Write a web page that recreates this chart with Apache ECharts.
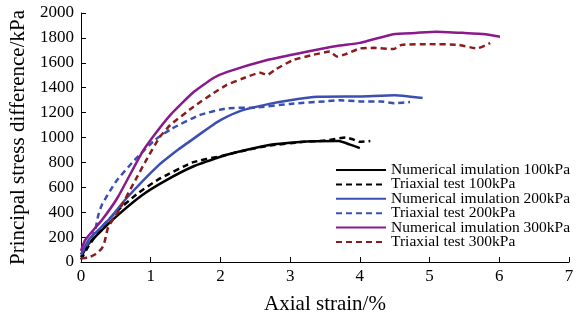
<!DOCTYPE html>
<html>
<head>
<meta charset="utf-8">
<script src="https://cdn.jsdelivr.net/npm/echarts@6/dist/echarts.min.js"></script>
<style>
  html, body { margin: 0; padding: 0; background: #fff; }
  #chart { width: 577px; height: 320px; }
</style>
</head>
<body>
<div id="chart"></div>
<script>
// [axial strain %, principal stress difference kPa]
const num100 = [[0, 40], [0.1, 140], [0.2, 200], [0.5, 362], [0.88, 538], [1.2, 650], [1.6, 765], [2.0, 845], [2.2, 878], [2.7, 940], [3.0, 958], [3.3, 970], [3.7, 972], [3.85, 945], [4.0, 915]];
const tri100 = [[0, 20], [0.1, 120], [0.3, 280], [0.5, 400], [0.8, 545], [1.1, 660], [1.6, 800], [2.0, 850], [2.3, 890], [2.7, 935], [3.2, 965], [3.5, 975], [3.8, 1000], [3.9, 985], [4.0, 965], [4.15, 972]];
const num200 = [[0, 60], [0.1, 170], [0.2, 230], [0.4, 340], [0.63, 498], [1.1, 770], [1.4, 905], [1.6, 985], [1.85, 1085], [2.0, 1140], [2.28, 1212], [2.7, 1270], [3.0, 1300], [3.4, 1327], [4.0, 1330], [4.5, 1340], [4.7, 1330], [4.9, 1318]];
const tri200 = [[0, 60], [0.1, 150], [0.2, 250], [0.25, 380], [0.3, 460], [0.5, 645], [0.77, 820], [1.06, 980], [1.3, 1070], [1.7, 1180], [2.1, 1235], [2.5, 1240], [3.0, 1270], [3.5, 1290], [3.7, 1300], [4.0, 1290], [4.3, 1290], [4.5, 1275], [4.72, 1285]];
const num300 = [[0, 90], [0.06, 177], [0.3, 337], [0.53, 522], [0.87, 875], [1.03, 1004], [1.28, 1180], [1.6, 1357], [1.9, 1478], [2.1, 1527], [2.67, 1622], [3.2, 1685], [3.67, 1735], [4.0, 1760], [4.48, 1830], [4.8, 1840], [5.1, 1850], [5.5, 1840], [5.8, 1830], [6.01, 1810]];
const tri300 = [[0, 30], [0.1, 35], [0.2, 60], [0.3, 110], [0.34, 165], [0.39, 280], [0.53, 400], [0.78, 658], [0.92, 803], [1.13, 1004], [1.28, 1100], [1.61, 1245], [1.9, 1357], [2.09, 1422], [2.3, 1470], [2.57, 1520], [2.67, 1502], [2.8, 1550], [3.04, 1622], [3.3, 1660], [3.57, 1690], [3.67, 1650], [3.8, 1670], [4.0, 1715], [4.2, 1720], [4.48, 1710], [4.6, 1744], [5.0, 1750], [5.4, 1745], [5.68, 1716], [5.87, 1758]];

const seriesNames = [
    "Numerical imulation 100kPa",
    "Triaxial test 100kPa",
    "Numerical imulation 200kPa",
    "Triaxial test 200kPa",
    "Numerical imulation 300kPa",
    "Triaxial test 300kPa"
];
const seriesData = [num100, tri100, num200, tri200, num300, tri300];
const seriesColors = ["#000000", "#000000", "#3b4fb3", "#3b4fb3", "#8a1a8c", "#8c1c1c"];

const font = "Liberation Serif, Times New Roman, serif";

const chart = echarts.init(document.getElementById("chart"));

const option = {
    animation: false,
    grid: { left: 81, right: 8, top: 13, bottom: 58 },
    legend: {
        orient: "vertical",
        left: 335,
        top: 162,
        padding: 0,
        itemWidth: 50,
        itemHeight: 10,
        itemGap: -1.6,
        itemStyle: { opacity: 0 },
        textStyle: { fontFamily: font, fontSize: 15.5, color: "#000" },
        data: seriesNames
    },
    xAxis: {
        type: "value",
        min: 0,
        max: 7,
        interval: 1,
        name: "Axial strain/%",
        nameLocation: "middle",
        nameGap: 32,
        nameTextStyle: { fontFamily: font, fontSize: 21, color: "#000" },
        axisLine: { lineStyle: { color: "#000", width: 1 } },
        axisTick: { inside: true, length: 5, lineStyle: { color: "#000" } },
        axisLabel: { fontFamily: font, fontSize: 17, color: "#000", margin: 6 },
        splitLine: { show: false }
    },
    yAxis: {
        type: "value",
        min: 0,
        max: 2000,
        interval: 200,
        name: "Principal stress difference/kPa",
        nameLocation: "middle",
        nameGap: 51,
        nameTextStyle: { fontFamily: font, fontSize: 21, color: "#000" },
        axisLine: { show: true, lineStyle: { color: "#000", width: 1 } },
        axisTick: { show: true, inside: true, length: 5, lineStyle: { color: "#000" } },
        axisLabel: { fontFamily: font, fontSize: 17, color: "#000", margin: 7, formatter: v => String(v) },
        splitLine: { show: false }
    },
    series: seriesNames.map((name, i) => ({
        name: name,
        type: "line",
        data: seriesData[i],
        symbol: "none",
        smooth: 0.15,
        itemStyle: { color: seriesColors[i] },
        lineStyle: {
            color: seriesColors[i],
            width: 2.5,
            type: i % 2 === 1 ? [6, 4] : "solid"
        }
    }))
};

chart.setOption(option);
</script>
</body>
</html>
